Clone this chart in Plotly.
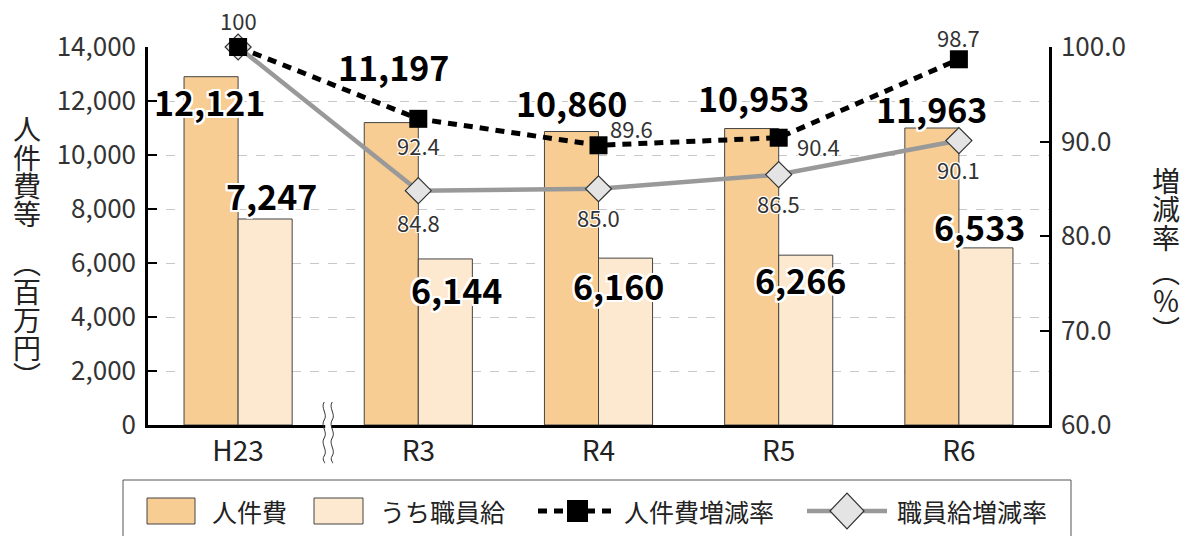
import plotly.graph_objects as go

categories = ['H23', 'R3', 'R4', 'R5', 'R6']

# 棒の高さ（図に描かれている値, 百万円）
jinkenhi = [12900, 11200, 10870, 10980, 11000]
shokuinkyu = [7630, 6150, 6180, 6290, 6560]
# 棒のラベル
jinkenhi_labels = ['12,121', '11,197', '10,860', '10,953', '11,963']
shokuinkyu_labels = ['7,247', '6,144', '6,160', '6,266', '6,533']

# 増減率（%）
jinkenhi_rate = [100, 92.4, 89.6, 90.4, 98.7]
shokuinkyu_rate = [100, 84.8, 85.0, 86.5, 90.1]
jinkenhi_rate_labels = ['100', '92.4', '89.6', '90.4', '98.7']
shokuinkyu_rate_labels = ['', '84.8', '85.0', '86.5', '90.1']

# ラベル位置の微調整（px, 項目の中心から）
jinkenhi_lab_shift = [(-29, -25), (-25, 56), (-27, 29), (-25, 31), (-27, 20)]
shokuinkyu_lab_shift = [(33, 23), (38, -31), (20, -27), (22, -24), (21, 21)]
jrate_lab_shift = [(0, 27), (0, -26), (33, 17), (40, -8), (0, 22)]
srate_lab_shift = [(0, 0), (0, -31), (0, -28), (0, -28), (0, -28)]

FONT = 'Noto Sans CJK JP'
C_JIN = '#f7cd93'
C_SHO = '#fde8d0'

# ページの余白(8px)を差し引いた図の大きさ
W, H = 1181, 528
L, R, T, B = 140, 140, 39, 111
PW, PH = W - L - R, H - T - B
OFF = 8


# 画面上の座標(px) -> paper 座標
def px(x):
    return (x - OFF - L) / PW


def py(y):
    return (H - B - (y - OFF)) / PH


fig = go.Figure()
fig.add_trace(go.Bar(x=categories, y=jinkenhi, name='人件費', marker=dict(color=C_JIN, line=dict(color='#444', width=1))))
fig.add_trace(go.Bar(x=categories, y=shokuinkyu, name='うち職員給', marker=dict(color=C_SHO, line=dict(color='#444', width=1))))
fig.add_trace(go.Scatter(x=categories, y=shokuinkyu_rate, yaxis='y2', mode='lines+markers', name='職員給増減率',
                         cliponaxis=False, line=dict(color='#999999', width=4.5),
                         marker=dict(symbol='diamond', size=20, color='#e3e4e3', line=dict(color='#333', width=1.2))))
fig.add_trace(go.Scatter(x=categories, y=jinkenhi_rate, yaxis='y2', mode='lines+markers', name='人件費増減率',
                         cliponaxis=False, line=dict(color='black', width=5, dash='9px,7px'),
                         marker=dict(symbol='square', size=18, color='black')))

big_font = dict(family=FONT, size=34, color='black', weight='bold',
                shadow='2px 2px 0 #fff, -2px -2px 0 #fff, 2px -2px 0 #fff, -2px 2px 0 #fff, 0 2px 0 #fff, 0 -2px 0 #fff, 2px 0 0 #fff, -2px 0 0 #fff')
small_font = dict(family=FONT, size=22, color='#333',
                  shadow='1px 1px 0 #fff, -1px -1px 0 #fff, 1px -1px 0 #fff, -1px 1px 0 #fff')

anns = []
for i, c in enumerate(categories):
    dx, dy = jinkenhi_lab_shift[i]
    anns.append(dict(x=c, y=jinkenhi[i], text=jinkenhi_labels[i], xshift=dx, yshift=dy, font=big_font, showarrow=False))
    dx, dy = shokuinkyu_lab_shift[i]
    anns.append(dict(x=c, y=shokuinkyu[i], text=shokuinkyu_labels[i], xshift=dx, yshift=dy, font=big_font, showarrow=False))
    dx, dy = jrate_lab_shift[i]
    anns.append(dict(x=c, y=jinkenhi_rate[i], yref='y2', text=jinkenhi_rate_labels[i], xshift=dx, yshift=dy, font=small_font, showarrow=False))
    if shokuinkyu_rate_labels[i]:
        dx, dy = srate_lab_shift[i]
        anns.append(dict(x=c, y=shokuinkyu_rate[i], yref='y2', text=shokuinkyu_rate_labels[i], xshift=dx, yshift=dy, font=small_font, showarrow=False))


def paper_text(text, x, y, font):
    return dict(xref='paper', yref='paper', x=px(x), y=py(y), xanchor='center', yanchor='middle',
                text=text, showarrow=False, font=font)


# 縦書きの軸タイトル
title_font = dict(family=FONT, size=28, color='#222')
for ch, yc in zip('人件費等', [128, 157, 185, 213]):
    anns.append(paper_text(ch, 27, yc, title_font))
for ch, yc in zip('︵百万円︶', [262, 291, 319, 347, 375]):
    anns.append(paper_text(ch, 27, yc, title_font))
for ch, yc in zip('増減率︵％︶', [180, 208, 237, 271, 300, 329]):
    anns.append(paper_text(ch, 1166, yc, title_font))

# 凡例（手作り）
leg_font = dict(family=FONT, size=25, color='#222')
shapes = [
    dict(type='rect', xref='paper', yref='paper', x0=px(123), x1=px(1071), y0=py(480), y1=py(545),
         line=dict(color='#555', width=1), fillcolor='white', layer='below'),
    dict(type='rect', xref='paper', yref='paper', x0=px(147), x1=px(195), y0=py(498), y1=py(524),
         line=dict(color='#444', width=1), fillcolor=C_JIN),
    dict(type='rect', xref='paper', yref='paper', x0=px(314), x1=px(363), y0=py(498), y1=py(524),
         line=dict(color='#444', width=1), fillcolor=C_SHO),
    dict(type='line', xref='paper', yref='paper', x0=px(538), x1=px(612), y0=py(511), y1=py(511),
         line=dict(color='black', width=5, dash='9px,7px')),
    dict(type='rect', xref='paper', yref='paper', x0=px(567), x1=px(588), y0=py(500), y1=py(522),
         line=dict(color='black', width=0), fillcolor='black'),
    dict(type='line', xref='paper', yref='paper', x0=px(807), x1=px(887), y0=py(511), y1=py(511),
         line=dict(color='#999999', width=4.5)),
    dict(type='path', xref='paper', yref='paper',
         path=f'M {px(830)},{py(511)} L {px(847)},{py(493)} L {px(864)},{py(511)} L {px(847)},{py(529)} Z',
         line=dict(color='#333', width=1.2), fillcolor='#e3e4e3'),
]
for txt, xc in [('人件費', 249), ('うち職員給', 442), ('人件費増減率', 699), ('職員給増減率', 972)]:
    anns.append(paper_text(txt, xc, 511, leg_font))

# 軸の省略記号（波線）
shapes.append(dict(type='path', xref='x', yref='paper', xsizemode='pixel', ysizemode='pixel', xanchor=0.5, yanchor=0,
                   path='M -3,5 L 3,5 L 3,-5 L -3,-5 Z', fillcolor='white', line=dict(width=0), layer='above'))
for off in (-4, 4):
    shapes.append(dict(type='path', xref='x', yref='paper', xsizemode='pixel', ysizemode='pixel', xanchor=0.5, yanchor=0,
                       path=(f'M {off},23 C {off-4},17 {off+4},11 {off},5 C {off-4},-1 {off+4},-7 {off},-13 '
                             f'C {off-4},-19 {off+4},-25 {off},-31 C {off-3},-35 {off+2},-38 {off},-38'),
                       line=dict(color='#333', width=1), layer='above'))

fig.update_layout(
    width=W, height=H,
    margin=dict(l=L, r=R, t=T, b=B),
    plot_bgcolor='white', paper_bgcolor='white',
    barmode='group', bargap=0.4, bargroupgap=0,
    showlegend=False,
    font=dict(family=FONT, color='#333'),
    xaxis=dict(range=[-0.5, 4.5], showline=True, linecolor='black', linewidth=2.5, ticks='',
               tickfont=dict(size=28, color='#222'), showgrid=False),
    yaxis=dict(range=[0, 14000], dtick=2000, tickformat=',', showline=True, linecolor='black', linewidth=2.5,
               ticks='inside', ticklen=9, tickwidth=2, tickcolor='black', tickfont=dict(size=26, color='#333'),
               showgrid=True, gridcolor='#c8c8c8', griddash='dash', gridwidth=1, zeroline=False,
               ticklabelstandoff=4),
    yaxis2=dict(range=[60, 100], dtick=10, tickformat='.1f', overlaying='y', side='right', showline=True,
                linecolor='black', linewidth=2.5, ticks='inside', ticklen=9, tickwidth=2, tickcolor='black',
                tickfont=dict(size=26, color='#333'), showgrid=False, zeroline=False, ticklabelstandoff=4),
    annotations=anns,
    shapes=shapes,
)

fig.write_html('out.html')
